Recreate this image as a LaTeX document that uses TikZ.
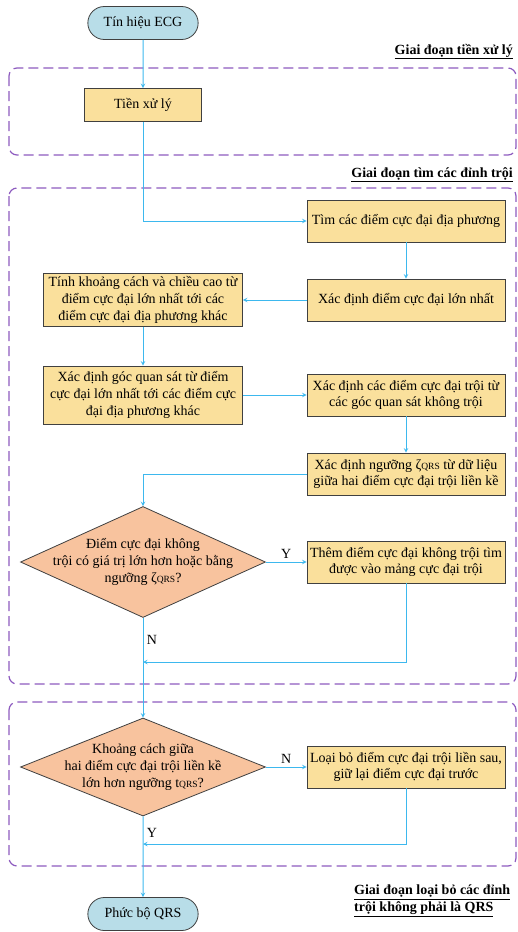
\documentclass[tikz,border=0pt]{standalone}
\usepackage{fontspec}
\setmainfont{Liberation Serif}
\usetikzlibrary{positioning, arrows, shapes.geometric, shapes.misc}
\definecolor{boxfill}{HTML}{FAE09C}
\definecolor{decfill}{HTML}{F8C39E}
\definecolor{termfill}{HTML}{B8DDE8}
\definecolor{boxline}{HTML}{404040}
\definecolor{flowcol}{HTML}{3DB8EE}
\definecolor{phasecol}{HTML}{8D5BBF}
\newcommand{\qrs}{{\fontsize{9.5}{9.5}\selectfont QRS}}

\begin{document}
\begin{tikzpicture}[>=stealth, x=1pt, y=-1pt, node distance=263pt,
    every node/.style={font=\fontsize{14}{16.7}\selectfont},
    proc/.style={draw=boxline, fill=boxfill, line width=0.8pt, align=center, minimum width=198pt, minimum height=42pt, inner sep=3pt},
    decision/.style={diamond, draw=boxline, fill=decfill, line width=0.8pt, align=center, aspect=2.2, inner xsep=-32pt, inner ysep=0pt, minimum width=245pt},
    term/.style={rounded rectangle, draw=boxline, fill=termfill, line width=0.8pt, minimum width=117pt, minimum height=33pt},
    flow/.style={->, draw=flowcol, line width=1pt},
    phase/.style={draw=phasecol, dash pattern=on 10pt off 5pt, line width=1.2pt, rounded corners=8pt},
    phaselabel/.style={font=\fontsize{14}{16.7}\selectfont\bfseries, inner sep=0pt, align=left}]
    \useasboundingbox (0,0) rectangle (518,932);

    % phases
    \draw[phase] (9,68) rectangle (516,155);
    \draw[phase] (9,188) rectangle (516,684);
    \draw[phase] (9,702) rectangle (516,866);
    \node[phaselabel, anchor=base east] (lbltien) at (513,54) {\underline{Giai đoạn tiền xử lý}};
    \node[phaselabel, anchor=base east] (lbltim) at (513,177) {\underline{Giai đoạn tìm các đỉnh trội}};
    \node[phaselabel, anchor=west] (lblloai) at (354,901) {\underline{Giai đoạn loại bỏ các đỉnh}\\\underline{trội không phải là QRS}};

    \node[term] (ecg) at (143,23) {Tín hiệu ECG};
    \node[proc, minimum width=117pt, minimum height=33pt] (tien) at (143,105) {Tiền xử lý};
    \node[proc, minimum width=199pt] (tinh) at (143,300) {Tính khoảng cách và chiều cao từ\\điểm cực đại lớn nhất tới các\\điểm cực đại địa phương khác};
    \node[proc] (max) [right of=tinh] {Xác định điểm cực đại lớn nhất};
    \node[proc] (tim) [above of=max, node distance=79pt] {Tìm các điểm cực đại địa phương};
    \node[proc, minimum width=199pt, minimum height=58pt] (goc) at (143,395) {Xác định góc quan sát từ điểm\\cực đại lớn nhất tới các điểm cực\\đại địa phương khác};
    \node[proc] (troi) [right of=goc] {Xác định các điểm cực đại trội từ\\các góc quan sát không trội};
    \node[proc] (nguong) [below of=troi, node distance=79pt] {Xác định ngưỡng ζ\qrs{} từ dữ liệu\\giữa hai điểm cực đại trội liền kề};
    \node[decision, minimum height=111pt] (d1) at (143,562) {Điểm cực đại không\\trội có giá trị lớn hơn hoặc bằng\\ngưỡng ζ\qrs?};
    \node[proc] (them) [right of=d1] {Thêm điểm cực đại không trội tìm\\được vào mảng cực đại trội};
    \node[decision, minimum height=98pt] (d2) at (143,767) {Khoảng cách giữa\\hai điểm cực đại trội liền kề\\lớn hơn ngưỡng t\qrs?};
    \node[proc] (loai) [right of=d2] {Loại bỏ điểm cực đại trội liền sau,\\giữ lại điểm cực đại trước};
    \node[term] (qrs) at (143,914) {Phức bộ QRS};
    \coordinate (j1) at (143,662);
    \coordinate (j2) at (143,844);

    \draw[flow] (ecg) -- (tien);
    \draw[flow] (tien) |- (tim);
    \draw[flow] (tim) -- (max);
    \draw[flow] (max) -- (tinh);
    \draw[flow] (tinh) -- (goc);
    \draw[flow] (goc) -- (troi);
    \draw[flow] (troi) -- (nguong);
    \draw[flow] (nguong) -| (d1);
    \draw[flow] (d1) -- node[above] {Y} (them);
    \draw[flow] (them) |- (j1);
    \draw[flow] (d1) -- node[pos=0.22, right] {N} (d2);
    \draw[flow] (d2) -- node[above] {N} (loai);
    \draw[flow] (loai) |- (j2);
    \draw[flow] (d2) -- node[pos=0.2, right] {Y} (qrs);
\end{tikzpicture}
\end{document}
